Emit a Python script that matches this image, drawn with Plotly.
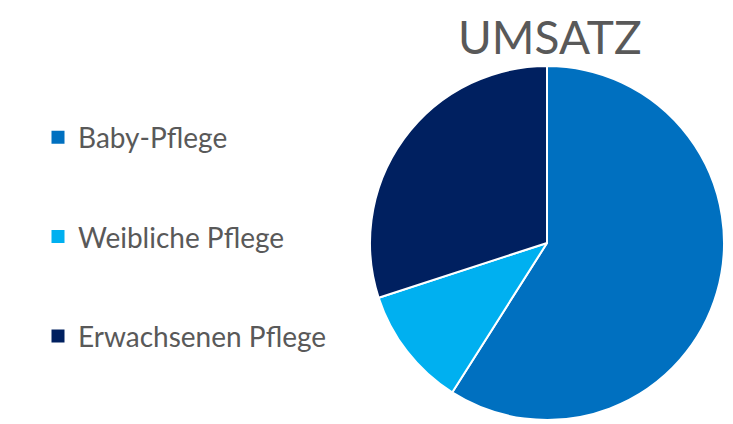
import plotly.graph_objects as go

labels = ["Baby-Pflege", "Weibliche Pflege", "Erwachsenen Pflege"]
values = [59, 11, 30]
colors = ["#0070C0", "#00B0F0", "#002060"]
title_text = "UMSATZ"

W, H = 733, 424
OFF = 8  # page body margin offset

fig = go.Figure()

fig.add_trace(go.Pie(
    labels=labels, values=values, sort=False, direction="clockwise", rotation=0,
    marker=dict(colors=colors, line=dict(color="white", width=2)),
    textinfo="none", showlegend=False,
    domain=dict(x=[(370 - OFF) / W, (724 - OFF) / W],
                y=[1 - (420 - OFF) / H, 1 - (66 - OFF) / H]),
))

# legend-only entries (one group per label to allow vertical spacing)
for lab, col in zip(labels, colors):
    fig.add_trace(go.Scatter(
        x=[None], y=[None], mode="markers", name=lab, legendgroup=lab,
        marker=dict(symbol="square", size=13, color=col),
        showlegend=True,
    ))

fig.update_layout(
    width=W, height=H,
    margin=dict(l=0, r=0, t=0, b=0),
    paper_bgcolor="white", plot_bgcolor="white",
    xaxis=dict(visible=False), yaxis=dict(visible=False),
    font=dict(family="Lato", color="#595959"),
    legend=dict(
        x=(38 - OFF) / W, xanchor="left", y=1 - (237 - OFF) / H, yanchor="middle",
        font=dict(size=28, color="#595959", family="Lato"),
        tracegroupgap=60, itemwidth=30,
        bgcolor="rgba(0,0,0,0)",
    ),
    annotations=[dict(
        text=title_text, x=(550 - OFF) / W, y=1, xref="paper", yref="paper",
        xanchor="center", yanchor="top", showarrow=False, borderpad=0,
        font=dict(size=46, color="#595959", family="Lato"),
    )],
)

fig.write_html("out.html")
